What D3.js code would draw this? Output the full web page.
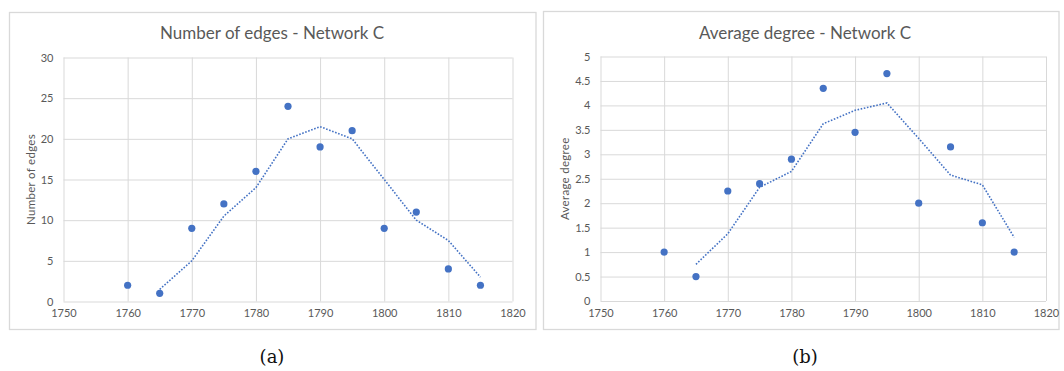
<!DOCTYPE html>
<html>
<head>
<meta charset="utf-8">
<script src="https://cdn.jsdelivr.net/npm/d3@7"></script>
<style>
  body { margin: 0; background: #fff; }
  svg { display: block; }
  text { font-family: Lato, "Liberation Sans", sans-serif; }
</style>
</head>
<body>
<div id="wrapper"></div>
<script>
// data
const years = [1760, 1765, 1770, 1775, 1780, 1785, 1790, 1795, 1800, 1805, 1810, 1815]
const edges = [2, 1, 9, 12, 16, 24, 19, 21, 9, 11, 4, 2]
const avgDegree = [1, 0.5, 2.25, 2.4, 2.9, 4.35, 3.45, 4.65, 2, 3.15, 1.6, 1]

// dotted trend line (2 period moving average, as drawn)
const trendYears = [1765, 1770, 1775, 1780, 1785, 1790, 1795, 1800, 1805, 1810, 1815]
const edgesTrend = [1.5, 5, 10.5, 14, 20, 21.5, 20, 15, 10, 7.5, 3]
const degreeTrend = [0.75, 1.375, 2.325, 2.65, 3.625, 3.9, 4.05, 3.325, 2.575, 2.375, 1.3]

const xTicks = [1750, 1760, 1770, 1780, 1790, 1800, 1810, 1820]
const edgesTicks = [0, 5, 10, 15, 20, 25, 30]
const degreeTicks = [0, 0.5, 1, 1.5, 2, 2.5, 3, 3.5, 4, 4.5, 5]

const blue = "#4472c4"
const grid = "#d9d9d9"
const labelColor = "#595959"

const wrapper = d3.select("#wrapper")
  .append("svg")
  .attr("width", 1064)
  .attr("height", 371)

function drawPanel(p) {
  const g = wrapper.append("g")

  // chart frame
  g.append("rect")
    .attr("x", p.frame[0]).attr("y", p.frame[1])
    .attr("width", p.frame[2] - p.frame[0]).attr("height", p.frame[3] - p.frame[1])
    .attr("fill", "#fff").attr("stroke", grid).attr("stroke-width", 1.3)

  const xScale = d3.scaleLinear().domain([1750, 1820]).range([p.plot[0], p.plot[2]])
  const yScale = d3.scaleLinear().domain(d3.extent(p.yTicks)).range([p.plot[3], p.plot[1]])

  // gridlines
  g.append("g")
    .attr("transform", `translate(0, ${p.plot[3]})`)
    .call(d3.axisBottom(xScale).tickValues(xTicks).tickSize(-(p.plot[3] - p.plot[1])).tickFormat(d3.format("d")).tickPadding(8))
    .call(a => a.select(".domain").remove())
    .call(a => a.selectAll("line").attr("stroke", grid))
    .call(a => a.selectAll("text").attr("fill", labelColor).style("font-size", "11px"))

  g.append("g")
    .attr("transform", `translate(${p.plot[0]}, 0)`)
    .call(d3.axisLeft(yScale).tickValues(p.yTicks).tickSize(-(p.plot[2] - p.plot[0])).tickFormat(d => String(d)).tickPadding(10))
    .call(a => a.select(".domain").remove())
    .call(a => a.selectAll("line").attr("stroke", grid))
    .call(a => a.selectAll("text").attr("fill", labelColor).style("font-size", "11px"))

  // trend line
  const line = d3.line()
    .x((d, i) => xScale(trendYears[i]))
    .y(d => yScale(d))

  g.append("path")
    .datum(p.trend)
    .attr("d", line)
    .attr("fill", "none")
    .attr("stroke", blue)
    .attr("stroke-width", 1.6)
    .attr("stroke-dasharray", "1.6 1.6")

  // points
  g.selectAll("circle")
    .data(p.values)
    .join("circle")
    .attr("cx", (d, i) => xScale(years[i]))
    .attr("cy", d => yScale(d))
    .attr("r", 3.6)
    .attr("fill", blue)

  // titles
  g.append("text")
    .attr("x", p.titleX).attr("y", 39)
    .attr("text-anchor", "middle")
    .attr("fill", labelColor)
    .style("font-size", "17px")
    .text(p.title)

  g.append("text")
    .attr("transform", `translate(${p.yTitleX}, ${(p.plot[1] + p.plot[3]) / 2}) rotate(-90)`)
    .attr("text-anchor", "middle")
    .attr("fill", labelColor)
    .style("font-size", "11.5px")
    .style("letter-spacing", "0.3px")
    .text(p.yTitle)

  wrapper.append("text")
    .attr("x", p.titleX).attr("y", 363)
    .attr("text-anchor", "middle")
    .attr("fill", "#111")
    .style("font-family", "'DejaVu Serif', serif")
    .style("font-size", "18px")
    .text(p.caption)
}

drawPanel({
  frame: [9.5, 12.5, 536, 329.5],
  plot: [63.5, 57.5, 512.5, 301.5],
  values: edges,
  trend: edgesTrend,
  yTicks: edgesTicks,
  title: "Number of edges - Network C",
  titleX: 272,
  yTitle: "Number of edges",
  yTitleX: 35,
  caption: "(a)"
})

drawPanel({
  frame: [543.5, 11.5, 1059, 329.5],
  plot: [600.5, 56.5, 1046, 301],
  values: avgDegree,
  trend: degreeTrend,
  yTicks: degreeTicks,
  title: "Average degree - Network C",
  titleX: 805,
  yTitle: "Average degree",
  yTitleX: 569,
  caption: "(b)"
})
</script>
</body>
</html>
